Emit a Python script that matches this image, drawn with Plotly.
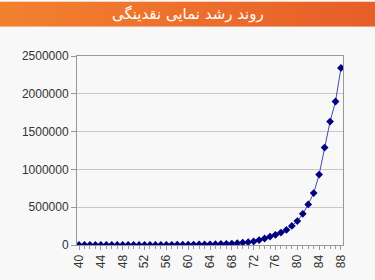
import plotly.graph_objects as go

years = list(range(40, 89))
liquidity = [80, 90, 100, 110, 130, 150, 170, 200, 230, 270,
             320, 400, 500, 700, 1000, 1400, 1800, 2300, 3200, 3900,
             4600, 6000, 7000, 8000, 9000, 11000, 13000, 16000, 19000, 24000,
             30000, 38000, 47000, 65000, 86000, 112000, 134000, 164000, 200000, 252000,
             317000, 412000, 537000, 687000, 932000, 1289000, 1632000, 1898000, 2342000]
title_text = "روند رشد نمایی نقدینگی"

fig = go.Figure()
fig.add_trace(go.Scatter(
    x=years, y=liquidity, mode="lines+markers",
    line=dict(color="#4a4aa0", width=1),
    marker=dict(symbol="diamond", size=6, color="#000080"),
    showlegend=False,
))

grad_svg = ("data:image/svg+xml;utf8,<svg xmlns='http://www.w3.org/2000/svg' width='375' height='26'>"
            "<defs><linearGradient id='g' x1='0' x2='1' y1='0' y2='0'>"
            "<stop offset='0' stop-color='%23F2812F'/><stop offset='1' stop-color='%23E65E29'/>"
            "</linearGradient></defs><rect width='375' height='26' fill='url(%23g)'/></svg>")

fig.update_layout(
    width=375, height=280,
    margin=dict(l=77, r=32, t=56, b=30),
    paper_bgcolor="#F8F8F8", plot_bgcolor="#F8F8F8",
    font=dict(family="Liberation Sans, Arial", size=12, color="#333333"),
    images=[dict(source=grad_svg, xref="paper", yref="paper",
                 x=-77/266, y=1 + 56/194, sizex=375/266, sizey=26/194,
                 sizing="stretch", layer="below", xanchor="left", yanchor="top")],
    annotations=[dict(text=title_text, xref="paper", yref="paper",
                      x=(187.5 - 77) / 266, y=1 + (56 - 13) / 194,
                      xanchor="center", yanchor="middle", showarrow=False,
                      font=dict(family="DejaVu Sans", size=15, color="white"))],
)
fig.update_xaxes(
    range=[39.63, 88.37], tickmode="linear", tick0=40, dtick=4, tickangle=-90,
    ticks="outside", ticklen=4, tickcolor="#999999", tickfont=dict(size=12),
    minor=dict(dtick=1, ticks="outside", ticklen=3, tickcolor="#999999"),
    showgrid=False, showline=True, linecolor="#999999", linewidth=1, mirror=True,
    zeroline=False,
)
fig.update_yaxes(
    range=[0, 2500000], tickmode="linear", tick0=0, dtick=500000, tickformat="d",
    ticks="outside", ticklen=5, tickcolor="#999999", tickfont=dict(size=12),
    showgrid=True, gridcolor="#C8C8C8", gridwidth=1,
    showline=True, linecolor="#999999", linewidth=1, mirror=True, zeroline=False,
)
fig.write_html("out.html")
